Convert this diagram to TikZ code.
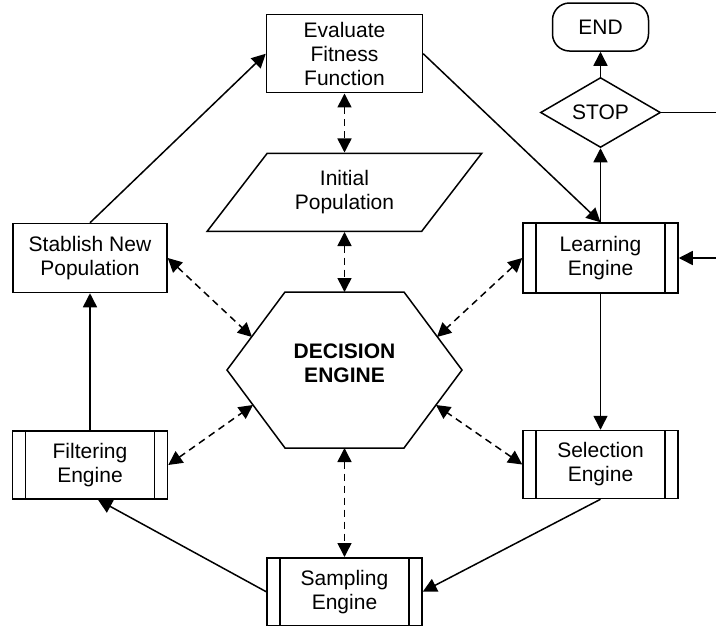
\documentclass[tikz,border=0pt]{standalone}
\usepackage{fontspec}
\setmainfont{Liberation Sans}
\usepackage{tikz}
\usepackage{xcolor}
\usetikzlibrary{positioning}
\usetikzlibrary{calc}
\usetikzlibrary{arrows.meta}
\usetikzlibrary{shapes.geometric}
\tikzstyle{plainbox} = [
	draw,
	line width=1.5pt,
	minimum width=155pt,
	minimum height=69pt,
	inner sep=0pt,
	align=center
]
\tikzstyle{procbox} = [
	plainbox,
	minimum height=68pt,
	path picture={
		\draw[line width=1.2pt]
			([xshift=13pt]path picture bounding box.north west) -- ([xshift=13pt]path picture bounding box.south west)
			([xshift=-13pt]path picture bounding box.north east) -- ([xshift=-13pt]path picture bounding box.south east);
	}
]
\tikzstyle{iobox} = [
	draw,
	line width=1.5pt,
	trapezium,
	trapezium left angle=48.5,
	trapezium right angle=131.5,
	trapezium stretches=true,
	minimum width=275pt,
	minimum height=78pt,
	inner sep=0pt,
	align=center
]
\tikzstyle{stopbox} = [
	draw,
	line width=1.5pt,
	diamond,
	aspect=1.7,
	minimum width=120pt,
	minimum height=70pt,
	inner sep=0pt
]
\tikzstyle{endbox} = [
	draw,
	line width=1.5pt,
	rounded corners=17pt,
	minimum width=96pt,
	minimum height=48pt,
	inner sep=0pt
]
\tikzstyle{flow} = [
	line width=1.5pt,
	-{Triangle[length=14pt,width=14pt]}
]
\tikzstyle{link} = [
	line width=1.5pt,
	dash pattern=on 7pt off 5pt,
	{Triangle[length=14pt,width=14pt]}-{Triangle[length=14pt,width=14pt]}
]

\begin{document}
\begin{tikzpicture}[x=1pt, y=-1pt, font=\fontsize{21}{24}\selectfont]
	\useasboundingbox (0,0) rectangle (716,625);

	%
	% Centre of the cycle
	\node[font=\fontsize{21}{24}\selectfont\bfseries, align=center] (dec) at (344.5,363) {DECISION\\ENGINE};
	\draw[line width=1.5pt] (227,370) -- (285,292) -- (404,292) -- (462,370) -- (404,448) -- (285,448) -- cycle;
	\coordinate (dtop) at (344.5,292);
	\coordinate (dbot) at (344.5,448);
	\coordinate (dtl) at (252,337);
	\coordinate (dtr) at (437,337);
	\coordinate (dbl) at (253,405);
	\coordinate (dbr) at (436,405);

	% Upper column
	\node[iobox, above=60pt of dtop] (init) {Initial\\Population};
	\node[plainbox, minimum width=156pt, minimum height=78pt, above=59pt of init] (eval) {Evaluate\\Fitness\\Function};
	\node[procbox, below=109pt of dbot] (samp) {Sampling\\Engine};

	% Left side
	\node[plainbox, minimum width=154pt] (stab) at (90,258) {Stablish New\\Population};
	\node[procbox, below=137pt of stab] (filt) {Filtering\\Engine};

	% Right side
	\node[procbox, minimum height=70pt] (learn) at (600.5,258) {Learning\\Engine};
	\node[procbox, below=136pt of learn] (sel) {Selection\\Engine};
	\node[stopbox, above=74pt of learn] (stop) {STOP};
	\node[endbox, above=25pt of stop] (end) {END};
	\coordinate (loopout) at ($(stop.east)+(60,0)$);
	\coordinate (loopin) at ($(learn.east)+(40,0)$);

	% Main cycle
	\draw[flow] (stab.north) -- (eval.west);
	\draw[flow] (eval.east) -- (learn.north);
	\draw[flow] (learn.south) -- (sel.north);
	\draw[flow] (sel.south) -- (samp.east);
	\draw[flow] (samp.west) -- ([xshift=8pt]filt.south);
	\draw[flow] (filt.north) -- (stab.south);

	% Stop test
	\draw[flow] (learn.north) -- (stop.south);
	\draw[flow] (stop.north) -- (end.south);
	\draw[line width=1.5pt] (stop.east) -- (loopout);
	\draw[flow] (loopin) -- (learn.east);

	% Links to the decision engine
	\draw[link] (eval.south) -- (init.north);
	\draw[link] (init.south) -- (dtop);
	\draw[link] (dbot) -- (samp.north);
	\draw[link] (stab.east) -- (dtl);
	\draw[link] (learn.west) -- (dtr);
	\draw[link] (filt.east) -- (dbl);
	\draw[link] (sel.west) -- (dbr);

\end{tikzpicture}
\end{document}
